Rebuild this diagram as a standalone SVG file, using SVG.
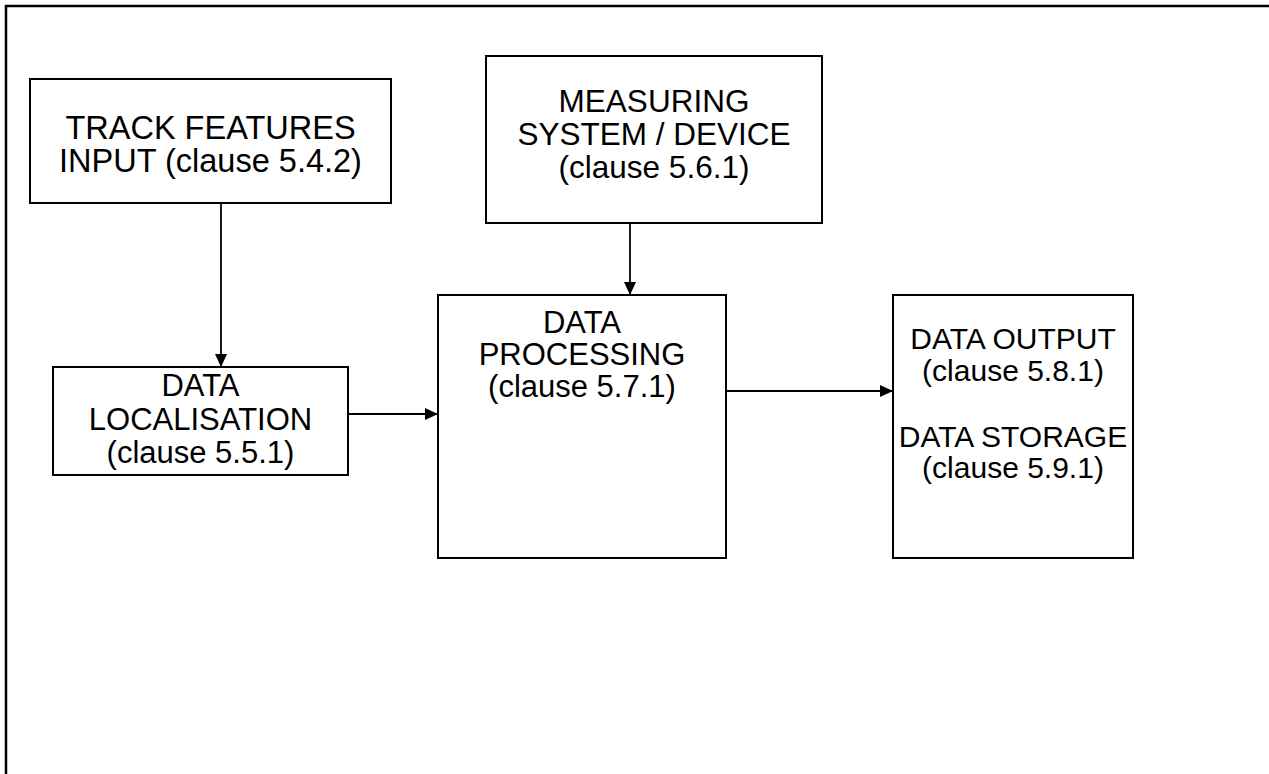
<svg xmlns="http://www.w3.org/2000/svg" width="1269" height="774" viewBox="0 0 1269 774">
<defs>
<marker id="ah" markerWidth="13" markerHeight="12" refX="12" refY="6" orient="auto" markerUnits="userSpaceOnUse">
<path d="M0,0 L13,6 L0,12 Z" fill="#000"/>
</marker>
<style>
.box{fill:#fff;stroke:#000;stroke-width:2}
.t{font-family:"Liberation Sans",Arial,sans-serif;font-size:31px;fill:#000;text-anchor:middle}
.c{stroke:#000;stroke-width:1.8;fill:none}
</style>
</defs>
<rect width="1269" height="774" fill="#fff"/>
<g id="frame">
<path d="M6,774 L6,6 L1269,6" fill="none" stroke="#000" stroke-width="2.5"/>
</g>
<g id="connectors">
<line class="c" x1="221" y1="203" x2="221" y2="366" marker-end="url(#ah)"/>
<line class="c" x1="630" y1="223" x2="630" y2="294" marker-end="url(#ah)"/>
<line class="c" x1="348" y1="414" x2="437" y2="414" marker-end="url(#ah)"/>
<line class="c" x1="726" y1="391" x2="892" y2="391" marker-end="url(#ah)"/>
</g>
<g id="track">
<rect class="box" x="30" y="79" width="361" height="124"/>
<text class="t" x="210.5" y="139" style="font-size:32.5px">TRACK FEATURES</text>
<text class="t" x="210.5" y="171.5" style="font-size:32.5px">INPUT (clause 5.4.2)</text>
</g>
<g id="measuring">
<rect class="box" x="486" y="56" width="336" height="167"/>
<text class="t" x="654" y="112" style="font-size:31.5px">MEASURING</text>
<text class="t" x="654" y="145" style="font-size:31.5px">SYSTEM / DEVICE</text>
<text class="t" x="654" y="178" style="font-size:31.5px">(clause 5.6.1)</text>
</g>
<g id="localisation">
<rect class="box" x="53" y="367" width="295" height="108"/>
<text class="t" x="200.5" y="396">DATA</text>
<text class="t" x="200.5" y="430">LOCALISATION</text>
<text class="t" x="200.5" y="463">(clause 5.5.1)</text>
</g>
<g id="processing">
<rect class="box" x="438" y="295" width="288" height="263"/>
<text class="t" x="582" y="333">DATA</text>
<text class="t" x="582" y="365">PROCESSING</text>
<text class="t" x="582" y="397">(clause 5.7.1)</text>
</g>
<g id="output">
<rect class="box" x="893" y="295" width="240" height="263"/>
<text class="t" x="1013" y="349" style="font-size:30px">DATA OUTPUT</text>
<text class="t" x="1013" y="381" style="font-size:30px">(clause 5.8.1)</text>
<text class="t" x="1013" y="447" style="font-size:30px">DATA STORAGE</text>
<text class="t" x="1013" y="478" style="font-size:30px">(clause 5.9.1)</text>
</g>
</svg>
